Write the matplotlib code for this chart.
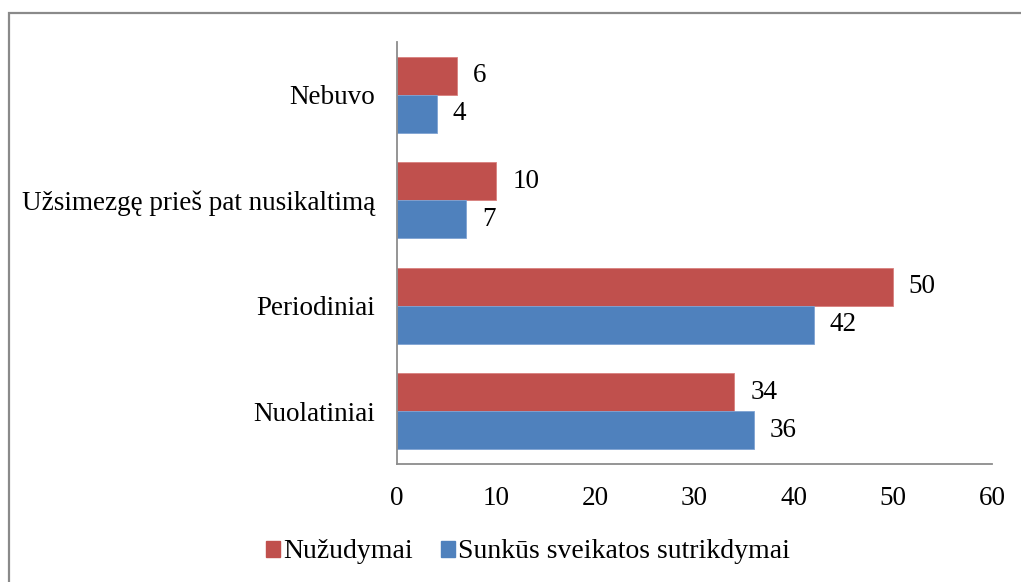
import matplotlib
matplotlib.use('Agg')
import matplotlib.pyplot as plt
from matplotlib.patches import Rectangle, Patch
import numpy as np

categories = ['Nebuvo', 'Užsimezgę prieš pat nusikaltimą', 'Periodiniai', 'Nuolatiniai']
nuzudymai = [6, 10, 50, 34]
sunkus = [4, 7, 42, 36]
series_names = ['Nužudymai', 'Sunkūs sveikatos sutrikdymai']
xticks = [0, 10, 20, 30, 40, 50, 60]

RED = '#C0504D'
BLUE = '#4F81BD'
AXIS = '#8C8C8C'

plt.rcParams['font.family'] = ['Liberation Serif', 'DejaVu Serif']

W, H = 1021, 582
fig = plt.figure(figsize=(W / 100, H / 100), dpi=100)
ax = fig.add_axes([397 / W, 1 - 464 / H, (992 - 397) / W, (464 - 42) / H])

y = np.arange(len(categories))
h = 0.36
b1 = ax.barh(y - h / 2, nuzudymai, height=h, color=RED, edgecolor='#D8807E', linewidth=0.6)
b2 = ax.barh(y + h / 2, sunkus, height=h, color=BLUE, edgecolor='#7FA3D3', linewidth=0.6)

for bars, vals in ((b1, nuzudymai), (b2, sunkus)):
    for bar, v in zip(bars, vals):
        ax.annotate(str(v), (bar.get_width(), bar.get_y() + bar.get_height() / 2),
                    xytext=(11.5, 0), textcoords='offset points',
                    ha='left', va='center', fontsize=19.5, color='black')

ax.set_ylim(3.5, -0.5)
ax.set_xlim(0, 60)
ax.set_xticks(xticks)
ax.set_yticks(y)
ax.set_yticklabels(categories)
ax.tick_params(axis='both', length=0, labelsize=19.5, colors='black')
ax.tick_params(axis='x', pad=16)
ax.tick_params(axis='y', pad=16)
for s in ('top', 'right'):
    ax.spines[s].set_visible(False)
for s in ('left', 'bottom'):
    ax.spines[s].set_color(AXIS)
    ax.spines[s].set_linewidth(1.3)

handles = [Patch(facecolor=RED, edgecolor=RED), Patch(facecolor=BLUE, edgecolor=BLUE)]
fig.legend(handles, series_names, loc='center', bbox_to_anchor=(528 / W, 1 - 552 / H),
           ncol=2, frameon=False, fontsize=20, handlelength=0.5, handleheight=0.5,
           handletextpad=0.12, columnspacing=1.0, borderaxespad=0)

fig.patches.append(Rectangle((9 / W, -0.1), 1.2, 1 - 13 / H + 0.1, transform=fig.transFigure,
                             fill=False, edgecolor='#8A8A8A', linewidth=1.6, clip_on=False))

fig.savefig('out.png', dpi=100)
